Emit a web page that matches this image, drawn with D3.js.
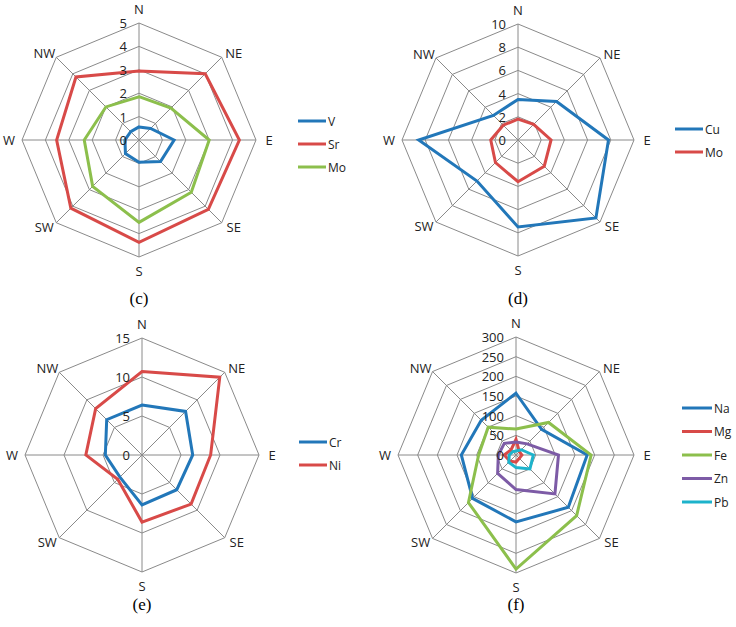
<!DOCTYPE html>
<html><head><meta charset="utf-8">
<script src="https://cdn.jsdelivr.net/npm/d3@7"></script>
<style>
html,body{margin:0;padding:0;background:#fff;}
svg{display:block;}
</style></head>
<body>
<svg id="chart" width="736" height="627"></svg>
<script>
// ---- data ----
const directions = ["N","NE","E","SE","S","SW","W","NW"];

// panel (c)
const ticksC = [0,1,2,3,4,5];
const seriesNamesC = ["V","Sr","Mo"];
const valsC_V  = [0.56,0.7,1.5,1.3,0.95,0.82,0.6,0.5];
const valsC_Sr = [2.95,4.0,4.29,4.19,4.37,4.12,3.52,3.81];
const valsC_Mo = [1.85,1.93,3.0,3.16,3.52,2.8,2.34,2.0];

// panel (d)
const ticksD = [0,2,4,6,8,10];
const seriesNamesD = ["Cu","Mo"];
const valsD_Cu = [3.5,4.7,7.8,9.5,7.5,5.0,8.56,3.0];
const valsD_Mo = [1.8,1.9,2.85,3.2,3.6,2.75,2.35,1.8];

// panel (e)
const ticksE = [0,5,10,15];
const seriesNamesE = ["Cr","Ni"];
const valsE_Cr = [6.4,7.9,6.5,6.3,6.4,4.0,4.7,6.4];
const valsE_Ni = [10.7,14.1,8.8,8.9,8.6,4.4,7.2,8.4];

// panel (f)
const ticksF = [0,50,100,150,200,250,300];
const seriesNamesF = ["Na","Mg","Fe","Zn","Pb"];
const valsF_Na = [157,92,181,188,170,156,139,125];
const valsF_Mg = [40,12,15,12,18,22,30,18];
const valsF_Fe = [66,117,191,218,290,171,95,100];
const valsF_Zn = [33,40,108,140,88,66,45,42];
const valsF_Pb = [10,19,44,50,32,26,17,12];

const captions = ["(c)","(d)","(e)","(f)"];

// ---- styles ----
const COL = {blue:"#2277b9", red:"#d84a48", green:"#8cbf4c", purple:"#7d5ba6", cyan:"#1db3cb"};
const FONT = "'Open Sans', 'Liberation Sans', sans-serif";

const svg = d3.select("#chart");

function drawRadar(opt){
  const g = svg.append("g").attr("transform",`translate(${opt.cx},${opt.cy})`);
  const R = opt.R;
  const maxV = d3.max(opt.ticks);
  const r = d3.scaleLinear().domain([0,maxV]).range([0,R]);
  const ang = d3.scalePoint().domain(directions).range([0, 2*Math.PI*(directions.length-1)/directions.length]);
  const pt = (d,v)=>{ const a = ang(d); return [r(v)*Math.sin(a), -r(v)*Math.cos(a)]; };

  // rings
  opt.ticks.filter(t=>t>0).forEach(t=>{
    g.append("path")
      .attr("d", d3.line()(directions.map(d=>pt(d,t))) + "Z")
      .attr("fill","none").attr("stroke","#8a8a8a").attr("stroke-width",1);
  });
  // spokes
  directions.forEach(d=>{
    const p = pt(d,maxV);
    g.append("line").attr("x1",0).attr("y1",0).attr("x2",p[0]).attr("y2",p[1])
      .attr("stroke","#8a8a8a").attr("stroke-width",1);
  });
  // direction labels
  directions.forEach(d=>{
    const a = ang(d);
    const sx = Math.sin(a), cy = -Math.cos(a);
    let x, y;
    if (d.length === 2) {
      x = Math.sign(sx) * (R*0.7071 + 12);
      y = Math.sign(cy) * (R*0.7071 + 4);
    } else {
      x = sx * (R + 13);
      y = cy * (R + 14);
    }
    g.append("text")
      .attr("x", x).attr("y", y)
      .attr("text-anchor","middle").attr("dominant-baseline","central")
      .attr("font-family",FONT).attr("font-size",13).attr("fill","#222")
      .text(d);
  });
  // series
  opt.series.forEach(s=>{
    g.append("path")
      .attr("d", d3.line()(directions.map((d,i)=>pt(d,s.values[i]))) + "Z")
      .attr("fill","none").attr("stroke",s.color).attr("stroke-width",3)
      .attr("stroke-linejoin","miter");
  });
  // tick labels
  opt.ticks.forEach(t=>{
    g.append("text")
      .attr("x",-12).attr("y",-r(t))
      .attr("text-anchor","end").attr("dominant-baseline","central")
      .attr("font-family",FONT).attr("font-size",13).attr("fill","#222")
      .text(t);
  });
  // legend
  const lg = svg.append("g").attr("transform",`translate(${opt.lx},${opt.ly})`);
  opt.series.forEach((s,i)=>{
    const y = i*opt.lstep;
    lg.append("line").attr("x1",0).attr("x2",opt.lw).attr("y1",y).attr("y2",y)
      .attr("stroke",s.color).attr("stroke-width",3);
    lg.append("text").attr("x",opt.lw+2).attr("y",y)
      .attr("dominant-baseline","central")
      .attr("font-family",FONT).attr("font-size",12).attr("fill","#222")
      .text(s.name);
  });
  // caption
  svg.append("text").attr("x",opt.cx).attr("y",opt.capY)
    .attr("text-anchor","middle").attr("dominant-baseline","central")
    .attr("font-family","'Liberation Serif','Times New Roman',serif").attr("font-size",17)
    .attr("fill","#000").text(opt.caption);
}

drawRadar({cx:139, cy:140, R:117, ticks:ticksC, caption:captions[0], capY:298,
  lx:298, ly:121, lw:28, lstep:23,
  series:[
    {name:seriesNamesC[0], values:valsC_V,  color:COL.blue},
    {name:seriesNamesC[1], values:valsC_Sr, color:COL.red},
    {name:seriesNamesC[2], values:valsC_Mo, color:COL.green}
  ]});

drawRadar({cx:518, cy:140, R:116, ticks:ticksD, caption:captions[1], capY:298,
  lx:675, ly:129, lw:28, lstep:23,
  series:[
    {name:seriesNamesD[0], values:valsD_Cu, color:COL.blue},
    {name:seriesNamesD[1], values:valsD_Mo, color:COL.red}
  ]});

drawRadar({cx:142, cy:455, R:117, ticks:ticksE, caption:captions[2], capY:604,
  lx:299, ly:442, lw:28, lstep:23,
  series:[
    {name:seriesNamesE[0], values:valsE_Cr, color:COL.blue},
    {name:seriesNamesE[1], values:valsE_Ni, color:COL.red}
  ]});

drawRadar({cx:516, cy:455, R:118, ticks:ticksF, caption:captions[3], capY:604,
  lx:682, ly:408, lw:30, lstep:23.5,
  series:[
    {name:seriesNamesF[0], values:valsF_Na, color:COL.blue},
    {name:seriesNamesF[1], values:valsF_Mg, color:COL.red},
    {name:seriesNamesF[2], values:valsF_Fe, color:COL.green},
    {name:seriesNamesF[3], values:valsF_Zn, color:COL.purple},
    {name:seriesNamesF[4], values:valsF_Pb, color:COL.cyan}
  ]});
</script>
</body></html>
